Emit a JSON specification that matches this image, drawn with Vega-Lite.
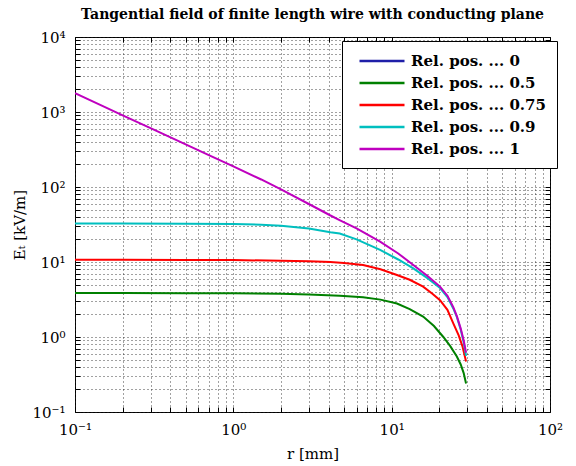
{
  "$schema": "https://vega.github.io/schema/vega-lite/v6.json",
  "autosize": "none",
  "width": 475,
  "height": 375,
  "padding": {"left": 75, "top": 37, "right": 26, "bottom": 54},
  "background": "white",
  "title": {"text": "Tangential field of finite length wire with conducting plane", "font": "DejaVu Serif", "fontSize": 14, "fontWeight": "bold", "color": "black", "offset": 8, "anchor": "middle"},
  "config": {
    "view": {"stroke": "black", "strokeWidth": 1},
    "axis": {"labelFont": "DejaVu Serif", "labelFontSize": 15, "labelColor": "black", "titleFont": "DejaVu Serif", "titleFontSize": 15, "titleFontWeight": "normal", "titleColor": "black", "domain": false, "tickColor": "black", "gridColor": "#222222", "gridDash": [1, 3], "gridOpacity": 0.85, "gridWidth": 1}
  },
  "data": {"values": [
    {"r": 0.1, "E": 3.85, "pos": "Rel. pos. ... 0.5"},
    {"r": 0.2, "E": 3.85, "pos": "Rel. pos. ... 0.5"},
    {"r": 0.5, "E": 3.84, "pos": "Rel. pos. ... 0.5"},
    {"r": 1, "E": 3.82, "pos": "Rel. pos. ... 0.5"},
    {"r": 2, "E": 3.76, "pos": "Rel. pos. ... 0.5"},
    {"r": 3, "E": 3.68, "pos": "Rel. pos. ... 0.5"},
    {"r": 4.7, "E": 3.55, "pos": "Rel. pos. ... 0.5"},
    {"r": 6.6, "E": 3.4, "pos": "Rel. pos. ... 0.5"},
    {"r": 8.5, "E": 3.15, "pos": "Rel. pos. ... 0.5"},
    {"r": 10.8, "E": 2.8, "pos": "Rel. pos. ... 0.5"},
    {"r": 13, "E": 2.35, "pos": "Rel. pos. ... 0.5"},
    {"r": 15.8, "E": 1.87, "pos": "Rel. pos. ... 0.5"},
    {"r": 18.5, "E": 1.4, "pos": "Rel. pos. ... 0.5"},
    {"r": 21.2, "E": 1.0, "pos": "Rel. pos. ... 0.5"},
    {"r": 23.5, "E": 0.75, "pos": "Rel. pos. ... 0.5"},
    {"r": 25.8, "E": 0.55, "pos": "Rel. pos. ... 0.5"},
    {"r": 27.3, "E": 0.43, "pos": "Rel. pos. ... 0.5"},
    {"r": 28.5, "E": 0.33, "pos": "Rel. pos. ... 0.5"},
    {"r": 29.5, "E": 0.24, "pos": "Rel. pos. ... 0.5"},
    {"r": 0.1, "E": 10.7, "pos": "Rel. pos. ... 0.75"},
    {"r": 0.2, "E": 10.7, "pos": "Rel. pos. ... 0.75"},
    {"r": 0.5, "E": 10.65, "pos": "Rel. pos. ... 0.75"},
    {"r": 1, "E": 10.6, "pos": "Rel. pos. ... 0.75"},
    {"r": 2, "E": 10.4, "pos": "Rel. pos. ... 0.75"},
    {"r": 3, "E": 10.2, "pos": "Rel. pos. ... 0.75"},
    {"r": 4.1, "E": 10.0, "pos": "Rel. pos. ... 0.75"},
    {"r": 5, "E": 9.7, "pos": "Rel. pos. ... 0.75"},
    {"r": 6.6, "E": 9.1, "pos": "Rel. pos. ... 0.75"},
    {"r": 8.5, "E": 8.0, "pos": "Rel. pos. ... 0.75"},
    {"r": 10.8, "E": 6.7, "pos": "Rel. pos. ... 0.75"},
    {"r": 13, "E": 5.8, "pos": "Rel. pos. ... 0.75"},
    {"r": 15.8, "E": 4.7, "pos": "Rel. pos. ... 0.75"},
    {"r": 18, "E": 3.8, "pos": "Rel. pos. ... 0.75"},
    {"r": 20.2, "E": 3.1, "pos": "Rel. pos. ... 0.75"},
    {"r": 22.5, "E": 2.3, "pos": "Rel. pos. ... 0.75"},
    {"r": 24.5, "E": 1.52, "pos": "Rel. pos. ... 0.75"},
    {"r": 26.5, "E": 1.05, "pos": "Rel. pos. ... 0.75"},
    {"r": 28, "E": 0.75, "pos": "Rel. pos. ... 0.75"},
    {"r": 29.5, "E": 0.47, "pos": "Rel. pos. ... 0.75"},
    {"r": 0.1, "E": 32.5, "pos": "Rel. pos. ... 0.9"},
    {"r": 0.2, "E": 32.5, "pos": "Rel. pos. ... 0.9"},
    {"r": 0.5, "E": 32.4, "pos": "Rel. pos. ... 0.9"},
    {"r": 1, "E": 32.2, "pos": "Rel. pos. ... 0.9"},
    {"r": 1.5, "E": 31.5, "pos": "Rel. pos. ... 0.9"},
    {"r": 2, "E": 30.5, "pos": "Rel. pos. ... 0.9"},
    {"r": 3, "E": 28, "pos": "Rel. pos. ... 0.9"},
    {"r": 4.1, "E": 25, "pos": "Rel. pos. ... 0.9"},
    {"r": 4.7, "E": 24, "pos": "Rel. pos. ... 0.9"},
    {"r": 6, "E": 20, "pos": "Rel. pos. ... 0.9"},
    {"r": 8.45, "E": 14.5, "pos": "Rel. pos. ... 0.9"},
    {"r": 11, "E": 10.8, "pos": "Rel. pos. ... 0.9"},
    {"r": 13.7, "E": 8.2, "pos": "Rel. pos. ... 0.9"},
    {"r": 17, "E": 6.0, "pos": "Rel. pos. ... 0.9"},
    {"r": 20.2, "E": 4.5, "pos": "Rel. pos. ... 0.9"},
    {"r": 22.5, "E": 3.4, "pos": "Rel. pos. ... 0.9"},
    {"r": 24.5, "E": 2.4, "pos": "Rel. pos. ... 0.9"},
    {"r": 25.8, "E": 1.85, "pos": "Rel. pos. ... 0.9"},
    {"r": 27.3, "E": 1.25, "pos": "Rel. pos. ... 0.9"},
    {"r": 28.5, "E": 0.85, "pos": "Rel. pos. ... 0.9"},
    {"r": 29.5, "E": 0.56, "pos": "Rel. pos. ... 0.9"},
    {"r": 0.1, "E": 1780, "pos": "Rel. pos. ... 1"},
    {"r": 0.15, "E": 1200, "pos": "Rel. pos. ... 1"},
    {"r": 0.2, "E": 900, "pos": "Rel. pos. ... 1"},
    {"r": 0.3, "E": 610, "pos": "Rel. pos. ... 1"},
    {"r": 0.5, "E": 370, "pos": "Rel. pos. ... 1"},
    {"r": 0.7, "E": 266, "pos": "Rel. pos. ... 1"},
    {"r": 1, "E": 188, "pos": "Rel. pos. ... 1"},
    {"r": 1.5, "E": 126, "pos": "Rel. pos. ... 1"},
    {"r": 2, "E": 93, "pos": "Rel. pos. ... 1"},
    {"r": 3.06, "E": 58, "pos": "Rel. pos. ... 1"},
    {"r": 4.08, "E": 42, "pos": "Rel. pos. ... 1"},
    {"r": 4.72, "E": 36, "pos": "Rel. pos. ... 1"},
    {"r": 6, "E": 28, "pos": "Rel. pos. ... 1"},
    {"r": 8.45, "E": 18.7, "pos": "Rel. pos. ... 1"},
    {"r": 11, "E": 13, "pos": "Rel. pos. ... 1"},
    {"r": 13.7, "E": 9.1, "pos": "Rel. pos. ... 1"},
    {"r": 17, "E": 6.4, "pos": "Rel. pos. ... 1"},
    {"r": 20.2, "E": 4.7, "pos": "Rel. pos. ... 1"},
    {"r": 22.5, "E": 3.55, "pos": "Rel. pos. ... 1"},
    {"r": 24.5, "E": 2.5, "pos": "Rel. pos. ... 1"},
    {"r": 25.8, "E": 1.9, "pos": "Rel. pos. ... 1"},
    {"r": 27.3, "E": 1.3, "pos": "Rel. pos. ... 1"},
    {"r": 28.5, "E": 0.9, "pos": "Rel. pos. ... 1"},
    {"r": 29.5, "E": 0.62, "pos": "Rel. pos. ... 1"}
  ]},
  "resolve": {"axis": {"x": "independent", "y": "independent"}},
  "layer": [
    {
      "mark": {"type": "line", "strokeWidth": 2, "clip": true},
      "encoding": {
        "x": {"field": "r", "type": "quantitative", "scale": {"type": "log", "domain": [0.1, 100]},
          "axis": {"title": "r [mm]", "titlePadding": 9, "values": [0.1,0.2,0.3,0.4,0.5,0.6,0.7,0.8,0.9,1,2,3,4,5,6,7,8,9,10,20,30,40,50,60,70,80,90,100],
            "labelExpr": "datum.value == 0.1 ? '10⁻¹' : datum.value == 1 ? '10⁰' : datum.value == 10 ? '10¹' : datum.value == 100 ? '10²' : ''",
            "tickSize": -5, "labelPadding": 15, "labelFlush": false, "labelOverlap": false, "grid": true}},
        "y": {"field": "E", "type": "quantitative", "scale": {"type": "log", "domain": [0.1, 10000]},
          "axis": {"title": "Eₜ [kV/m]", "titlePadding": 4, "values": [0.1,0.2,0.3,0.4,0.5,0.6,0.7,0.8,0.9,1,2,3,4,5,6,7,8,9,10,20,30,40,50,60,70,80,90,100,200,300,400,500,600,700,800,900,1000,2000,3000,4000,5000,6000,7000,8000,9000,10000],
            "labelExpr": "datum.value == 0.1 ? '10⁻¹' : datum.value == 1 ? '10⁰' : datum.value == 10 ? '10¹' : datum.value == 100 ? '10²' : datum.value == 1000 ? '10³' : datum.value == 10000 ? '10⁴' : ''",
            "tickSize": -5, "labelPadding": 15, "labelFlush": false, "labelOverlap": false, "grid": true}},
        "color": {"field": "pos", "type": "nominal",
          "scale": {"domain": ["Rel. pos. ... 0", "Rel. pos. ... 0.5", "Rel. pos. ... 0.75", "Rel. pos. ... 0.9", "Rel. pos. ... 1"],
                    "range": ["#1f1fa8", "#008000", "#ff0000", "#00bfbf", "#bf00bf"]},
          "legend": {"title": null, "orient": "none", "legendX": 267, "legendY": 4, "fillColor": "white", "strokeColor": "black", "padding": 11,
            "labelFont": "DejaVu Serif", "labelFontSize": 15, "labelFontWeight": "bold", "labelColor": "black",
            "symbolType": "M-3,0L3,0", "symbolSize": 225, "symbolStrokeWidth": 2.5, "symbolOffset": 20, "labelOffset": 20, "rowPadding": 5}}
      }
    },
    {
      "mark": {"type": "line", "opacity": 0, "clip": true},
      "encoding": {
        "x": {"field": "r", "type": "quantitative",
          "axis": {"orient": "top", "title": null, "labels": false, "grid": false, "tickSize": -5, "values": [0.1,0.2,0.3,0.4,0.5,0.6,0.7,0.8,0.9,1,2,3,4,5,6,7,8,9,10,20,30,40,50,60,70,80,90,100]}},
        "y": {"field": "E", "type": "quantitative",
          "axis": {"orient": "right", "title": null, "labels": false, "grid": false, "tickSize": -5, "values": [0.1,0.2,0.3,0.4,0.5,0.6,0.7,0.8,0.9,1,2,3,4,5,6,7,8,9,10,20,30,40,50,60,70,80,90,100,200,300,400,500,600,700,800,900,1000,2000,3000,4000,5000,6000,7000,8000,9000,10000]}},
        "detail": {"field": "pos", "type": "nominal"}
      }
    }
  ]
}
